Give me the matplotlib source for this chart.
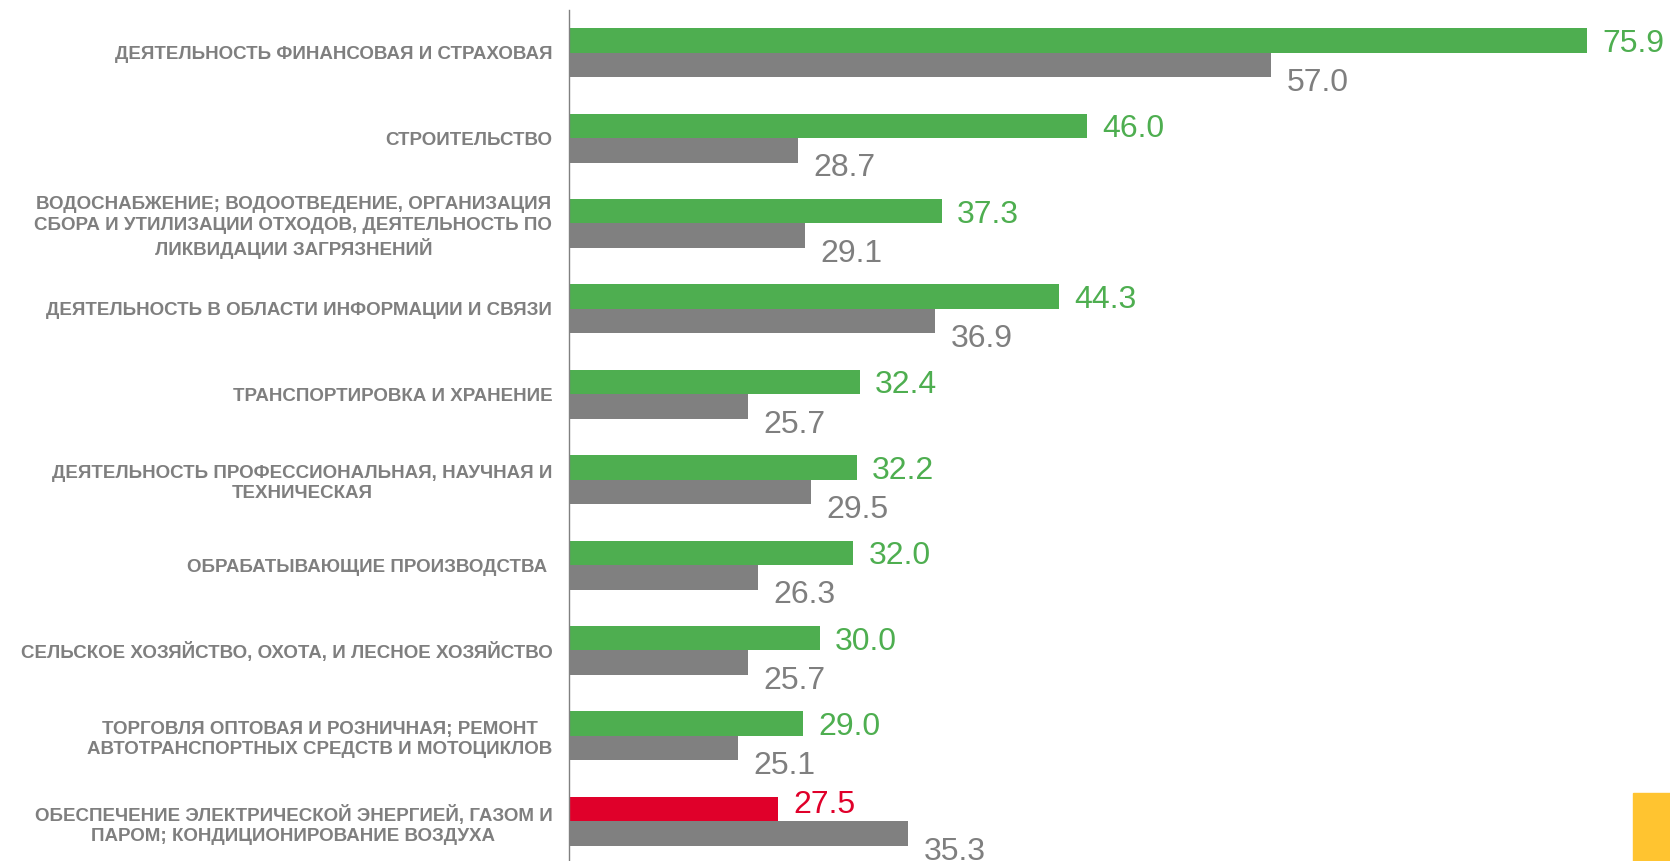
import matplotlib
matplotlib.use("Agg")
import matplotlib.pyplot as plt
import matplotlib.patches as mpatches
import numpy as np

plt.rcParams['font.family'] = ['Liberation Sans', 'DejaVu Sans']

categories = [
    "ДЕЯТЕЛЬНОСТЬ ФИНАНСОВАЯ И СТРАХОВАЯ",
    "СТРОИТЕЛЬСТВО",
    "ВОДОСНАБЖЕНИЕ; ВОДООТВЕДЕНИЕ, ОРГАНИЗАЦИЯ\nСБОРА И УТИЛИЗАЦИИ ОТХОДОВ, ДЕЯТЕЛЬНОСТЬ ПО\nЛИКВИДАЦИИ ЗАГРЯЗНЕНИЙ",
    "ДЕЯТЕЛЬНОСТЬ В ОБЛАСТИ ИНФОРМАЦИИ И СВЯЗИ",
    "ТРАНСПОРТИРОВКА И ХРАНЕНИЕ",
    "ДЕЯТЕЛЬНОСТЬ ПРОФЕССИОНАЛЬНАЯ, НАУЧНАЯ И\nТЕХНИЧЕСКАЯ",
    "ОБРАБАТЫВАЮЩИЕ ПРОИЗВОДСТВА ",
    "СЕЛЬСКОЕ ХОЗЯЙСТВО, ОХОТА, И ЛЕСНОЕ ХОЗЯЙСТВО",
    "ТОРГОВЛЯ ОПТОВАЯ И РОЗНИЧНАЯ; РЕМОНТ\nАВТОТРАНСПОРТНЫХ СРЕДСТВ И МОТОЦИКЛОВ",
    "ОБЕСПЕЧЕНИЕ ЭЛЕКТРИЧЕСКОЙ ЭНЕРГИЕЙ, ГАЗОМ И\nПАРОМ; КОНДИЦИОНИРОВАНИЕ ВОЗДУХА",
]
series_a = [75.9, 46.0, 37.3, 44.3, 32.4, 32.2, 32.0, 30.0, 29.0, 27.5]
series_b = [57.0, 28.7, 29.1, 36.9, 25.7, 29.5, 26.3, 25.7, 25.1, 35.3]

GREEN = "#4EAE50"
GRAY = "#808080"
RED = "#E0002A"
LABEL_GRAY = "#7F7F7F"

colors_a = [GREEN] * 9 + [RED]

fig = plt.figure(figsize=(16.70, 8.61), dpi=100)
ax = fig.add_axes([569 / 1670, -0.0035, (1656 - 569) / 1670, 0.992])

y = np.arange(len(categories))
h = 0.287
ax.barh(y - h / 2, series_a, height=h, color=colors_a, left=0)
ax.barh(y + h / 2, series_b, height=h, color=GRAY, left=0)

ax.set_xlim(15, 80)
ax.set_ylim(len(categories) - 0.5, -0.5)

for i, (a, b) in enumerate(zip(series_a, series_b)):
    ca = colors_a[i]
    dy_a = 3 if ca == RED else -2.5
    ax.annotate(f"{a:.1f}", xy=(a, i - h / 2), xytext=(11, dy_a), textcoords="offset points",
                ha="left", va="center", fontsize=23, color=ca)
    ax.annotate(f"{b:.1f}", xy=(b, i + h / 2), xytext=(11, -13), textcoords="offset points",
                ha="left", va="center", fontsize=23, color=LABEL_GRAY)

ax.set_yticks(y)
ax.set_yticklabels(categories, fontsize=13.5, fontweight="bold", color=LABEL_GRAY,
                   multialignment="center", linespacing=1.25)
ax.tick_params(axis="y", length=0, pad=12)
ax.tick_params(axis="x", length=0, labelbottom=False)

for s in ["top", "right", "bottom"]:
    ax.spines[s].set_visible(False)
ax.spines["left"].set_color("#808080")
ax.spines["left"].set_linewidth(1.0)

fig.patches.append(mpatches.Rectangle((1633 / 1670, 0), 1 - 1633 / 1670, 68 / 861,
                                      transform=fig.transFigure, color="#FFC430", zorder=5))

fig.savefig("out.png", dpi=100)
